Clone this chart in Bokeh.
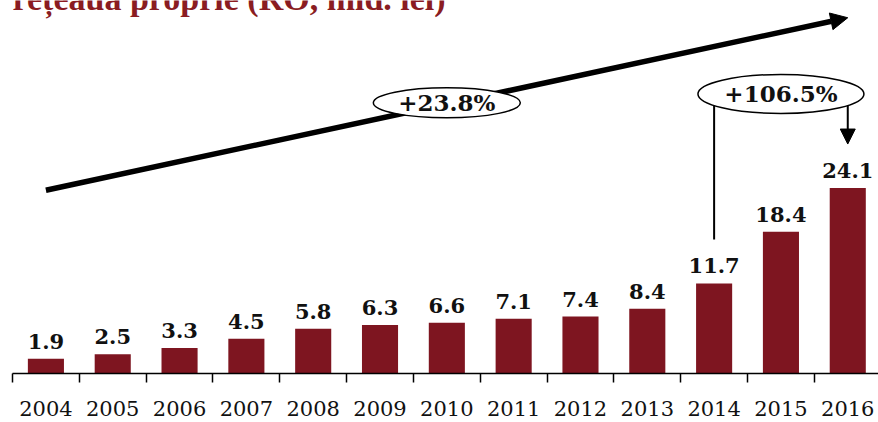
from bokeh.plotting import figure
from bokeh.models import (Range1d, FixedTicker, LabelSet, ColumnDataSource, Arrow,
                          NormalHead, Label)
from bokeh.core.properties import value
from bokeh.embed import file_html
from bokeh.resources import INLINE

# ---- data ----
years = ["2004", "2005", "2006", "2007", "2008", "2009", "2010",
         "2011", "2012", "2013", "2014", "2015", "2016"]
values = [1.9, 2.5, 3.3, 4.5, 5.8, 6.3, 6.6, 7.1, 7.4, 8.4, 11.7, 18.4, 24.1]
value_labels = ["1.9", "2.5", "3.3", "4.5", "5.8", "6.3", "6.6", "7.1", "7.4", "8.4", "11.7", "18.4", "24.1"]
title_text = "rețeaua proprie (RO, mld. lei)"
cagr_label = "+23.8%"
growth_label = "+106.5%"

BAR = "#7E1520"
TITLE_C = "#8A1C22"

xs = [i + 0.5 for i in range(len(years))]
src = ColumnDataSource(dict(x=xs, top=values, lab=value_labels))

p = figure(width=878, height=422, output_backend="svg", toolbar_location=None,
           x_range=Range1d(0, 12.96), y_range=Range1d(0, 48.44),
           min_border_left=12, min_border_right=0, min_border_top=0, min_border_bottom=49)
p.outline_line_color = None
p.xgrid.visible = False
p.ygrid.visible = False
p.yaxis.visible = False
p.background_fill_color = "white"
p.border_fill_color = "white"

p.vbar(x="x", top="top", width=0.54, bottom=0, source=src,
       fill_color=BAR, line_color=None)

p.add_layout(LabelSet(x="x", y="top", text="lab", source=src, y_offset=10,
                      text_align="center", text_baseline="alphabetic",
                      text_font=value("DejaVu Serif"), text_font_style="bold",
                      text_font_size="21px", text_color="#111111"))

ax = p.xaxis[0]
ax.ticker = FixedTicker(ticks=xs, minor_ticks=list(range(len(years) + 1)))
ax.major_label_overrides = {x: y for x, y in zip(xs, years)}
ax.major_tick_out = 0
ax.major_tick_in = 0
ax.minor_tick_out = 9
ax.minor_tick_in = 0
ax.minor_tick_line_color = "black"
ax.minor_tick_line_width = 1.5
ax.axis_line_color = "black"
ax.axis_line_width = 1.5
ax.major_label_standoff = 18
ax.major_label_text_font = "DejaVu Serif"
ax.major_label_text_font_size = "21px"
ax.major_label_text_color = "#111111"

# big trend arrow 2004 -> 2016
p.add_layout(Arrow(x_start=xs[0], y_start=23.8, x_end=xs[-1], y_end=46.2,
                   line_width=5.5, line_color="black",
                   end=NormalHead(size=17, fill_color="black", line_color="black", line_width=1)))

# bracket 2014 -> 2016
p.segment(x0=[xs[10]], y0=[36.3], x1=[xs[10]], y1=[17.4], line_color="black", line_width=2)
p.add_layout(Arrow(x_start=xs[12], y_start=36.3, x_end=xs[12], y_end=29.8,
                   line_width=2, line_color="black",
                   end=NormalHead(size=15, fill_color="black", line_color="black", line_width=1)))

e = p.ellipse(x=[xs[6], xs[11]], y=[35.16, 36.3], width=[147, 166], height=[30, 39],
              width_units="screen", height_units="screen",
              fill_color="white", line_color="black", line_width=1.5)
e.level = "overlay"
t = p.text(x=[xs[6], xs[11]], y=[35.16, 36.3], text=[cagr_label, growth_label],
           text_align="center", text_baseline="middle",
           text_font=value("DejaVu Serif"), text_font_style="bold",
           text_font_size="23px", text_color="#111111")
t.level = "overlay"

p.add_layout(Label(x=0, y=375, x_units="screen", y_units="screen", text=title_text,
                   text_font="Liberation Serif", text_font_style="bold",
                   text_font_size="34px", text_color=TITLE_C, text_baseline="alphabetic"))

open("out.html", "w").write(file_html(p, INLINE))
